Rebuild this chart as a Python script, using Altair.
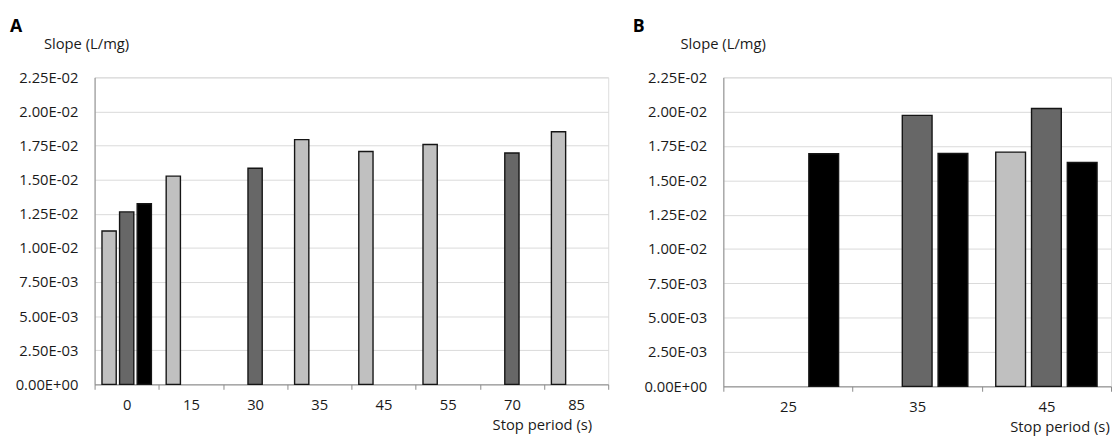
import altair as alt
import pandas as pd

# ---- data ----
a_cats = ["0", "15", "30", "35", "45", "55", "70", "85"]
a_stop = ["0", "0", "0", "15", "30", "35", "45", "55", "70", "85"]
a_series = ["S1", "S2", "S3", "S1", "S2", "S1", "S1", "S1", "S2", "S1"]
a_slope = [0.01124, 0.01264, 0.01324, 0.01526, 0.01584, 0.01794, 0.01707, 0.01758, 0.01696, 0.01852]

b_cats = ["25", "35", "45"]
b_stop = ["25", "35", "35", "45", "45", "45"]
b_series = ["S3", "S2", "S3", "S1", "S2", "S3"]
b_slope = [0.01694, 0.01973, 0.01696, 0.01706, 0.02023, 0.01630]

series_names = ["S1", "S2", "S3"]
series_colors = ["#c0c0c0", "#676767", "#000000"]

y_ticks = [0, 0.0025, 0.005, 0.0075, 0.01, 0.0125, 0.015, 0.0175, 0.02, 0.0225]
y_label_expr = "replace(replace(format(datum.value, '.2e'), 'e-', 'E-0'), 'e+', 'E+0')"

df_a = pd.DataFrame({"stop": a_stop, "series": a_series, "slope": a_slope})
df_b = pd.DataFrame({"stop": b_stop, "series": b_series, "slope": b_slope})

FONT = "Open Sans"
TXT = "#1a1a1a"


def panel(df, cats, letter, w, h, title_dx, ytitle_x, off_pi, off_po, xtitle_x, xtitle_align):
    return alt.Chart(df).mark_bar(stroke="#151515", strokeWidth=1.4).encode(
        x=alt.X(
            "stop:N",
            sort=cats,
            scale=alt.Scale(domain=cats, paddingInner=0, paddingOuter=0),
            axis=alt.Axis(
                title="Stop period (s)", labelAngle=0, tickBand="extent", ticks=True,
                tickSize=5, tickColor="#8a8a8a", domainColor="#8a8a8a", grid=False,
                labelPadding=9, labelFontSize=15, labelColor=TXT, labelFont=FONT,
                titleFont=FONT, titleFontSize=15, titleFontWeight="normal", titleColor=TXT,
                titleX=xtitle_x, titleY=46, titleAlign=xtitle_align, titleBaseline="alphabetic",
                titleAnchor="start",
            ),
        ),
        xOffset=alt.XOffset(
            "series:N",
            scale=alt.Scale(domain=series_names, paddingInner=off_pi, paddingOuter=off_po),
        ),
        y=alt.Y(
            "slope:Q",
            scale=alt.Scale(domain=[0, 0.0225], nice=False, zero=True),
            axis=alt.Axis(
                title="Slope (L/mg)", values=y_ticks, labelExpr=y_label_expr, ticks=False,
                labelPadding=17, labelFontSize=15, labelColor=TXT, labelFont=FONT,
                grid=True, gridColor="#d9d9d9", gridWidth=1, domainColor="#8a8a8a",
                titleAngle=0, titleX=ytitle_x, titleY=-29, titleAlign="left",
                titleBaseline="alphabetic", titleFont=FONT, titleFontSize=15,
                titleFontWeight="normal", titleColor=TXT, titleAnchor="start",
            ),
        ),
        fill=alt.Fill("series:N", scale=alt.Scale(domain=series_names, range=series_colors), legend=None),
    ).properties(
        width=w,
        height=h,
        title=alt.TitleParams(letter, anchor="start", frame="group", dx=title_dx, dy=3, fontSize=18,
                              fontWeight="bold", font=FONT, color="#000000", offset=4),
    )


chart_a = panel(df_a, a_cats, "A", 522, 312, -86, -52, 0.19, 0.42, 404, "left")
chart_b = panel(df_b, b_cats, "B", 394, 314, -92, -44, 0.168, 0.39, 291, "left")

chart = alt.hconcat(chart_a, chart_b, spacing=117, bounds="flush").resolve_scale(
    xOffset="independent", x="independent", y="independent"
).properties(
    padding={"left": 1, "top": 6, "right": 0, "bottom": 0}
).configure_view(stroke=None).configure(font=FONT, background="white")

chart.save("out.html", embed_options={"renderer": "svg", "actions": False})
